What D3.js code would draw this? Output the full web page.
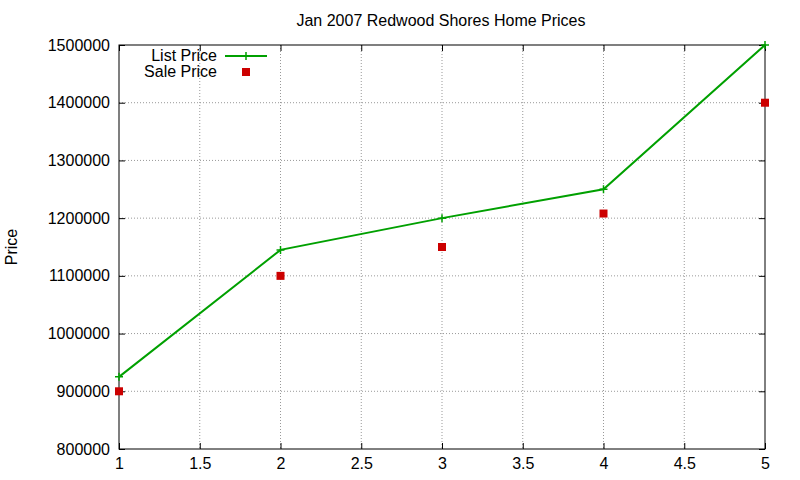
<!DOCTYPE html>
<html><head><meta charset="utf-8">
<script src="https://cdn.jsdelivr.net/npm/d3@7"></script>
<style>body{margin:0;background:#fff}text{font-family:"Liberation Sans",Arial,sans-serif;font-size:16px}</style>
</head><body><svg width="800" height="480"></svg>
<script>
var xs = [1, 2, 3, 4, 5];
var listPrice = [925000, 1145000, 1200000, 1250000, 1500000];
var salePrice = [900000, 1100000, 1150000, 1208000, 1400000];
var xTicks = [1, 1.5, 2, 2.5, 3, 3.5, 4, 4.5, 5];
var yTicks = [800000, 900000, 1000000, 1100000, 1200000, 1300000, 1400000, 1500000];

var svg = d3.select('svg');
var L = 119, R = 765, T = 45, B = 449;
var x = d3.scaleLinear().domain([1, 5]).range([L, R]);
var y = d3.scaleLinear().domain([800000, 1500000]).range([B, T]);

// grid
svg.selectAll('.gx').data(xTicks.slice(1, -1)).enter().append('line')
    .attr('x1', d => x(d)).attr('x2', d => x(d)).attr('y1', T).attr('y2', B)
    .attr('stroke', '#999').attr('stroke-dasharray', '1,2');
svg.selectAll('.gy').data(yTicks.slice(1, -1)).enter().append('line')
    .attr('y1', d => y(d)).attr('y2', d => y(d)).attr('x1', L).attr('x2', R)
    .attr('stroke', '#999').attr('stroke-dasharray', '1,2');

// axes, ticks inward and mirrored
svg.append('g').attr('transform', 'translate(0,' + B + ')')
    .call(d3.axisBottom(x).tickValues(xTicks).tickSize(-6).tickPadding(9).tickFormat(d3.format('')));
svg.append('g').attr('transform', 'translate(0,' + T + ')')
    .call(d3.axisTop(x).tickValues(xTicks).tickSize(-6).tickFormat(''));
svg.append('g').attr('transform', 'translate(' + L + ',0)')
    .call(d3.axisLeft(y).tickValues(yTicks).tickSize(-6).tickPadding(9).tickFormat(d3.format('d')));
svg.append('g').attr('transform', 'translate(' + R + ',0)')
    .call(d3.axisRight(y).tickValues(yTicks).tickSize(-6).tickFormat(''));
svg.selectAll('.domain').remove();
svg.selectAll('.tick text').attr('fill', '#000').style('font-size', '16px')
    .style('font-family', '"Liberation Sans",Arial,sans-serif');
svg.append('rect').attr('x', L).attr('y', T).attr('width', R - L).attr('height', B - T)
    .attr('fill', 'none').attr('stroke', '#000');

var green = '#00a000', red = '#cc0000';
var pts = xs.map((d, i) => [d, listPrice[i]]);
svg.append('path').datum(pts).attr('fill', 'none').attr('stroke', green).attr('stroke-width', 2)
    .attr('d', d3.line().x(d => x(d[0])).y(d => y(d[1])));
function plus(g, cx, cy) {
    g.append('path').attr('d', 'M' + (cx - 4) + ',' + cy + 'h8M' + cx + ',' + (cy - 4) + 'v8')
        .attr('stroke', green).attr('stroke-width', 1.5);
}
pts.forEach(d => plus(svg, x(d[0]), y(d[1])));
svg.selectAll('.sale').data(xs).enter().append('rect')
    .attr('x', (d) => x(d) - 4).attr('y', (d, i) => y(salePrice[i]) - 4)
    .attr('width', 8).attr('height', 8).attr('fill', red);

// legend
svg.append('text').attr('x', 217).attr('y', 61).attr('text-anchor', 'end').text('List Price');
svg.append('line').attr('x1', 225).attr('x2', 267).attr('y1', 56).attr('y2', 56)
    .attr('stroke', green).attr('stroke-width', 2);
plus(svg, 246, 56);
svg.append('text').attr('x', 217).attr('y', 77).attr('text-anchor', 'end').text('Sale Price');
svg.append('rect').attr('x', 242).attr('y', 68).attr('width', 8).attr('height', 8).attr('fill', red);

svg.append('text').attr('x', 441).attr('y', 26).attr('text-anchor', 'middle').text('Jan 2007 Redwood Shores Home Prices');
svg.append('text').attr('transform', 'translate(17,247) rotate(-90)').attr('text-anchor', 'middle').text('Price');
</script></body></html>
